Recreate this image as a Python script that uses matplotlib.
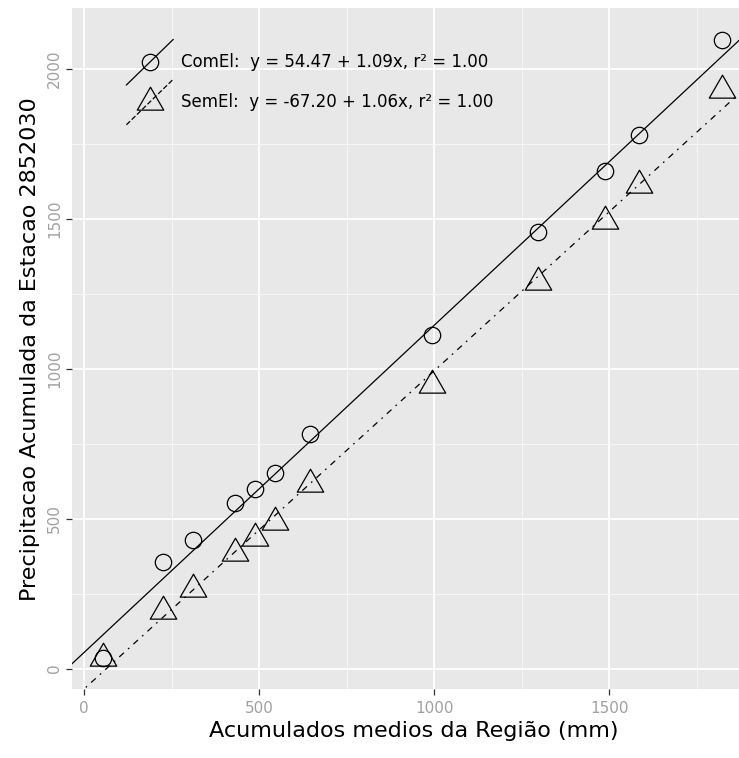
import numpy as np
import matplotlib
matplotlib.use("Agg")
import matplotlib.pyplot as plt
from matplotlib.lines import Line2D
from matplotlib.path import Path
from matplotlib.legend_handler import HandlerBase

plt.rcParams['font.family'] = ['DejaVu Sans']
plt.rcParams['lines.scale_dashes'] = False

# accumulated means of the region (mm), same x for both series
x_regiao = [54, 226, 312, 431, 488, 544, 645, 995, 1296, 1488, 1586, 1821]
y_com_el = [34, 356, 428, 551, 600, 652, 783, 1112, 1454, 1657, 1778, 2095]
y_sem_el = [36, 191, 264, 386, 434, 488, 615, 947, 1290, 1491, 1613, 1929]

# fitted lines (intercept, slope) as printed in the legend
fit_com = (54.47, 1.09)
fit_sem = (-67.20, 1.06)
labels = ["ComEl:  y = 54.47 + 1.09x, r\u00b2 = 1.00",
          "SemEl:  y = -67.20 + 1.06x, r\u00b2 = 1.00"]

xticks = [0, 500, 1000, 1500]
yticks = [0, 500, 1000, 1500, 2000]

# triangle with its centroid at the origin (like R's pch 2)
tri = Path([(0, 1), (-0.866, -0.5), (0.866, -0.5), (0, 1)],
           [Path.MOVETO, Path.LINETO, Path.LINETO, Path.CLOSEPOLY])

dotdash = (0, (1.2, 4.0, 4.5, 4.0))


class DiagHandler(HandlerBase):
    # ggplot style abline key: diagonal line with the point in the middle
    def create_artists(self, legend, orig, xdescent, ydescent, width, height,
                       fontsize, trans):
        x0, y0 = -xdescent, -ydescent
        ln = Line2D([x0, x0 + width], [y0 - 2, y0 + height + 2],
                    color=orig.get_color(), lw=orig.get_linewidth(),
                    linestyle=orig.get_linestyle(), transform=trans)
        mk = Line2D([x0 + width / 2], [y0 + height / 2], linestyle='none',
                    marker=orig.get_marker(), markersize=orig.get_markersize(),
                    markerfacecolor='none', markeredgecolor='black',
                    markeredgewidth=orig.get_markeredgewidth(), transform=trans)
        return [ln, mk]


fig = plt.figure(figsize=(7.39, 7.58), dpi=100)
ax = fig.add_axes([71.7 / 739, 69 / 758, 1 - 71.7 / 739, 680.7 / 758])
ax.set_facecolor('#E8E8E8')

xlim = (-36, 1871)
ylim = (-68, 2201)
ax.set_xlim(xlim)
ax.set_ylim(ylim)

ax.set_xticks(xticks)
ax.set_yticks(yticks)
ax.set_xticks([250, 750, 1250, 1750], minor=True)
ax.set_yticks([250, 750, 1250, 1750], minor=True)
ax.grid(which='major', color='white', lw=1.3)
ax.grid(which='minor', color='#F7F7F7', lw=0.7)
ax.set_axisbelow(True)
for s in ax.spines.values():
    s.set_visible(False)

ax.tick_params(which='major', length=4.5, width=0.9, color='#333333',
               labelcolor='#A0A0A0', labelsize=11, pad=4)
ax.tick_params(axis='y', pad=2.5)
ax.tick_params(which='minor', length=0)
for lab in ax.get_yticklabels():
    lab.set_rotation(90)
    lab.set_va('center')

xx = np.array(xlim)
ax.plot(xx, fit_com[0] + fit_com[1] * xx, color='black', lw=0.9)
ax.plot(xx, fit_sem[0] + fit_sem[1] * xx, color='black', lw=0.9,
        linestyle=dotdash)

ax.plot(x_regiao, y_com_el, linestyle='none', marker='o', markersize=11.8,
        markerfacecolor='none', markeredgecolor='black', markeredgewidth=0.9)
ax.plot(x_regiao, y_sem_el, linestyle='none', marker=tri, markersize=22,
        markerfacecolor='none', markeredgecolor='black', markeredgewidth=0.9)

h_com = Line2D([], [], color='black', lw=0.9, marker='o', markersize=11.8,
               markeredgewidth=0.9)
h_sem = Line2D([], [], color='black', lw=0.9, linestyle=dotdash, marker=tri,
               markersize=22, markeredgewidth=0.9)
leg = ax.legend([h_com, h_sem], labels, loc='upper left',
                bbox_to_anchor=(0.082, 0.950), frameon=False, fontsize=12,
                handlelength=2.8, handleheight=3.3, labelspacing=0.0,
                handletextpad=0.45, borderpad=0, borderaxespad=0,
                handler_map={Line2D: DiagHandler()})

ax.set_xlabel("Acumulados medios da Região (mm)", fontsize=16)
ax.xaxis.set_label_coords(0.513, -0.047, transform=ax.transAxes)
ax.xaxis.label.set_va('top')
ax.set_ylabel("Precipitacao Acumulada da Estacao 2852030", fontsize=16,
              labelpad=5)

fig.savefig("out.png", dpi=100)
